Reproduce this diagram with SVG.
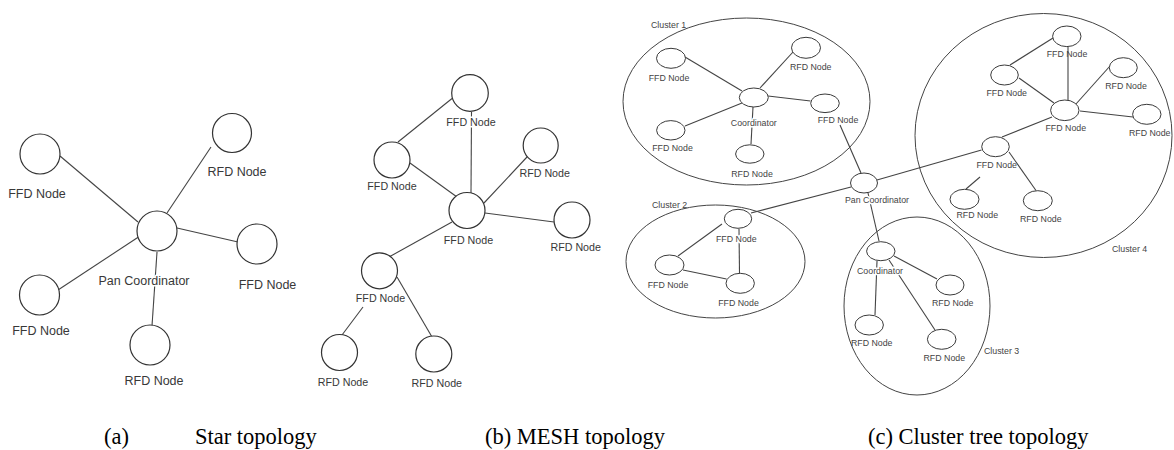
<svg xmlns="http://www.w3.org/2000/svg" width="1174" height="450" viewBox="0 0 1174 450">
<style>
  .bg { fill: #ffffff; }
  .node { fill: #ffffff; stroke: #333333; stroke-width: 1.2; }
  .cnode { fill: #ffffff; stroke: #3a3a3a; stroke-width: 1; }
  .cluster { fill: none; stroke: #444444; stroke-width: 1; }
  .conn line { stroke: #444444; stroke-width: 1.1; }
  .lbl { font-family: "Liberation Sans", Arial, sans-serif; fill: #383838; text-anchor: middle; }
  .s { font-size: 12.5px; }
  .m { font-size: 10.7px; }
  .c { font-size: 8.8px; fill: #444444; }
  .start { text-anchor: start; }
  .halo { paint-order: stroke; stroke: #ffffff; stroke-width: 3px; stroke-linejoin: round; }
  .cap { font-family: "Liberation Serif", "Times New Roman", serif; font-size: 22.5px; fill: #000000; }
</style>
<rect class="bg" x="0" y="0" width="1174" height="450"/>

<!-- clusters (c) -->
<g id="clusters">
  <g id="cluster1"><ellipse class="cluster" cx="746.5" cy="101.5" rx="123.5" ry="83.5"/><text class="lbl c start" x="651" y="28">Cluster 1</text></g>
  <g id="cluster2"><ellipse class="cluster" cx="715.5" cy="261.5" rx="89.5" ry="56.5"/><text class="lbl c start" x="652" y="208">Cluster 2</text></g>
  <g id="cluster3"><ellipse class="cluster" cx="917" cy="306" rx="73" ry="89"/><text class="lbl c start" x="984" y="354">Cluster 3</text></g>
  <g id="cluster4"><ellipse class="cluster" cx="1043.5" cy="135.5" rx="128.5" ry="122"/><text class="lbl c start" x="1112" y="252">Cluster 4</text></g>
</g>

<!-- connectors -->
<g id="connectors" class="conn">
  <!-- star -->
  <line x1="60" y1="156" x2="138" y2="222"/>
  <line x1="211" y1="147" x2="167" y2="213"/>
  <line x1="177" y1="228" x2="238" y2="242"/>
  <line x1="58" y1="290" x2="140" y2="236"/>
  <line x1="157" y1="252" x2="152" y2="326"/>
  <!-- mesh -->
  <line x1="452" y1="98.5" x2="398" y2="142"/>
  <line x1="471.5" y1="112" x2="471" y2="193"/>
  <line x1="410" y1="163" x2="457" y2="197"/>
  <line x1="527" y1="157" x2="484" y2="203"/>
  <line x1="485" y1="213" x2="554" y2="222"/>
  <line x1="452" y1="222" x2="389" y2="257"/>
  <line x1="363" y1="307" x2="342" y2="335"/>
  <line x1="397" y1="277" x2="432" y2="337"/>
  <!-- cluster 1 -->
  <line x1="685" y1="57" x2="742" y2="91"/>
  <line x1="793" y1="52" x2="760" y2="88"/>
  <line x1="768" y1="96" x2="810.5" y2="101"/>
  <line x1="742" y1="103" x2="685" y2="126"/>
  <line x1="753" y1="107" x2="751" y2="144"/>
  <line x1="840" y1="125" x2="861" y2="173"/>
  <!-- pan coordinator links -->
  <line x1="877" y1="180" x2="981.5" y2="150"/>
  <line x1="851" y1="187" x2="751" y2="213"/>
  <line x1="868" y1="193" x2="879" y2="241"/>
  <!-- cluster 2 -->
  <line x1="722" y1="224" x2="678" y2="256"/>
  <line x1="739" y1="229" x2="739.5" y2="273"/>
  <line x1="683" y1="270" x2="726.5" y2="279"/>
  <!-- cluster 3 -->
  <line x1="877" y1="261" x2="875" y2="315"/>
  <line x1="894" y1="256" x2="937" y2="279"/>
  <line x1="889" y1="260" x2="935" y2="330"/>
  <!-- cluster 4 -->
  <line x1="1053" y1="38" x2="1010" y2="65"/>
  <line x1="1068" y1="47" x2="1068" y2="100"/>
  <line x1="1019" y1="78" x2="1054" y2="103"/>
  <line x1="1110" y1="66" x2="1076" y2="104"/>
  <line x1="1080" y1="111" x2="1133" y2="117"/>
  <line x1="1052" y1="117" x2="1002" y2="137"/>
  <line x1="980" y1="177" x2="966" y2="189"/>
  <line x1="1009" y1="152" x2="1036" y2="190.5"/>
</g>

<!-- (a) star topology -->
<g id="star-ffd-tl"><circle class="node" cx="40" cy="154" r="20"/><text class="lbl s" x="37" y="198">FFD Node</text></g>
<g id="star-rfd-tr"><circle class="node" cx="232" cy="133" r="19.5"/><text class="lbl s" x="237" y="176">RFD Node</text></g>
<g id="star-pan"><circle class="node" cx="157" cy="231" r="20"/><text class="lbl s halo" x="144" y="284.5">Pan Coordinator</text></g>
<g id="star-ffd-r"><circle class="node" cx="257" cy="244" r="20"/><text class="lbl s" x="267.5" y="288.5">FFD Node</text></g>
<g id="star-ffd-bl"><circle class="node" cx="39.5" cy="295" r="20"/><text class="lbl s" x="41" y="334.5">FFD Node</text></g>
<g id="star-rfd-b"><circle class="node" cx="150" cy="345" r="20"/><text class="lbl s" x="154" y="384.5">RFD Node</text></g>

<!-- (b) mesh topology -->
<g id="mesh-ffd-top"><circle class="node" cx="470" cy="93" r="18.3"/><text class="lbl m halo" x="471" y="125.5">FFD Node</text></g>
<g id="mesh-ffd-left"><circle class="node" cx="392" cy="160" r="18"/><text class="lbl m" x="392" y="190">FFD Node</text></g>
<g id="mesh-ffd-center"><circle class="node" cx="467" cy="210.5" r="18"/><text class="lbl m" x="468.5" y="244">FFD Node</text></g>
<g id="mesh-rfd-ur"><circle class="node" cx="540.7" cy="145.5" r="17.5"/><text class="lbl m" x="544.7" y="177">RFD Node</text></g>
<g id="mesh-rfd-r"><circle class="node" cx="572" cy="220" r="18"/><text class="lbl m" x="575.7" y="251">RFD Node</text></g>
<g id="mesh-ffd-ll"><circle class="node" cx="379.5" cy="270.8" r="18"/><text class="lbl m" x="380.5" y="302">FFD Node</text></g>
<g id="mesh-rfd-bl"><circle class="node" cx="339.5" cy="352.5" r="18"/><text class="lbl m" x="343" y="385.5">RFD Node</text></g>
<g id="mesh-rfd-b"><circle class="node" cx="433.8" cy="354" r="18"/><text class="lbl m" x="436.8" y="387">RFD Node</text></g>

<!-- (c) cluster tree topology -->
<g id="c1-ffd-tl"><ellipse class="cnode" cx="671" cy="58.3" rx="14.5" ry="10"/><text class="lbl c" x="669" y="81">FFD Node</text></g>
<g id="c1-rfd"><ellipse class="cnode" cx="806" cy="47.8" rx="14.5" ry="10.5"/><text class="lbl c" x="810.7" y="70">RFD Node</text></g>
<g id="c1-coord"><ellipse class="cnode" cx="753.8" cy="97.5" rx="14.5" ry="9.5"/><text class="lbl c halo" x="753.8" y="125.5">Coordinator</text></g>
<g id="c1-ffd-r"><ellipse class="cnode" cx="825" cy="103.3" rx="14.3" ry="9.3"/><text class="lbl c" x="838" y="123">FFD Node</text></g>
<g id="c1-ffd-ll"><ellipse class="cnode" cx="670.8" cy="130.3" rx="14.2" ry="9.7"/><text class="lbl c" x="672.5" y="150.5">FFD Node</text></g>
<g id="c1-rfd-b"><ellipse class="cnode" cx="749.8" cy="154" rx="14.2" ry="9.2"/><text class="lbl c" x="752" y="176.5">RFD Node</text></g>

<g id="pan-coordinator"><ellipse class="cnode" cx="864" cy="183" rx="13.5" ry="10"/><text class="lbl c halo" x="877" y="203">Pan Coordinator</text></g>

<g id="c2-ffd-top"><ellipse class="cnode" cx="738" cy="218.8" rx="13.7" ry="9.5"/><text class="lbl c halo" x="736.3" y="242">FFD Node</text></g>
<g id="c2-ffd-left"><ellipse class="cnode" cx="669.5" cy="265" rx="14.5" ry="10"/><text class="lbl c" x="668" y="288">FFD Node</text></g>
<g id="c2-ffd-br"><ellipse class="cnode" cx="740.2" cy="283.3" rx="14.2" ry="10"/><text class="lbl c" x="738.5" y="306">FFD Node</text></g>

<g id="c3-coord"><ellipse class="cnode" cx="880.8" cy="251.2" rx="14.2" ry="9.5"/><text class="lbl c halo" x="880" y="274">Coordinator</text></g>
<g id="c3-rfd-r"><ellipse class="cnode" cx="950" cy="285" rx="14" ry="10"/><text class="lbl c" x="952.7" y="306">RFD Node</text></g>
<g id="c3-rfd-l"><ellipse class="cnode" cx="869.2" cy="325" rx="14.2" ry="10"/><text class="lbl c" x="871.7" y="346">RFD Node</text></g>
<g id="c3-rfd-b"><ellipse class="cnode" cx="941.7" cy="339.3" rx="14.3" ry="10"/><text class="lbl c" x="944.3" y="360.5">RFD Node</text></g>

<g id="c4-ffd-top"><ellipse class="cnode" cx="1066.8" cy="36.3" rx="14.2" ry="10.3"/><text class="lbl c" x="1067" y="56.5">FFD Node</text></g>
<g id="c4-ffd-left"><ellipse class="cnode" cx="1004.5" cy="75" rx="13.8" ry="10"/><text class="lbl c" x="1006.7" y="95.5">FFD Node</text></g>
<g id="c4-rfd-rt"><ellipse class="cnode" cx="1123.3" cy="67.7" rx="14" ry="10"/><text class="lbl c" x="1126" y="89">RFD Node</text></g>
<g id="c4-ffd-center"><ellipse class="cnode" cx="1064.8" cy="110.3" rx="14.2" ry="10.3"/><text class="lbl c" x="1065.8" y="131">FFD Node</text></g>
<g id="c4-rfd-r"><ellipse class="cnode" cx="1146.8" cy="114.3" rx="14.2" ry="10"/><text class="lbl c" x="1149.7" y="135.5">RFD Node</text></g>
<g id="c4-ffd-lower"><ellipse class="cnode" cx="995.5" cy="146.7" rx="13.8" ry="10"/><text class="lbl c" x="996.7" y="167.5">FFD Node</text></g>
<g id="c4-rfd-ll"><ellipse class="cnode" cx="964.5" cy="199.3" rx="14.5" ry="10"/><text class="lbl c" x="977.3" y="218">RFD Node</text></g>
<g id="c4-rfd-lr"><ellipse class="cnode" cx="1037.8" cy="200.7" rx="14.5" ry="10"/><text class="lbl c" x="1040.8" y="221.5">RFD Node</text></g>

<!-- captions -->
<g id="captions">
  <text class="cap" x="104" y="444">(a)</text>
  <text class="cap" x="195" y="444">Star topology</text>
  <text class="cap" x="485" y="444">(b) MESH topology</text>
  <text class="cap" x="868" y="444">(c) Cluster tree topology</text>
</g>
</svg>
